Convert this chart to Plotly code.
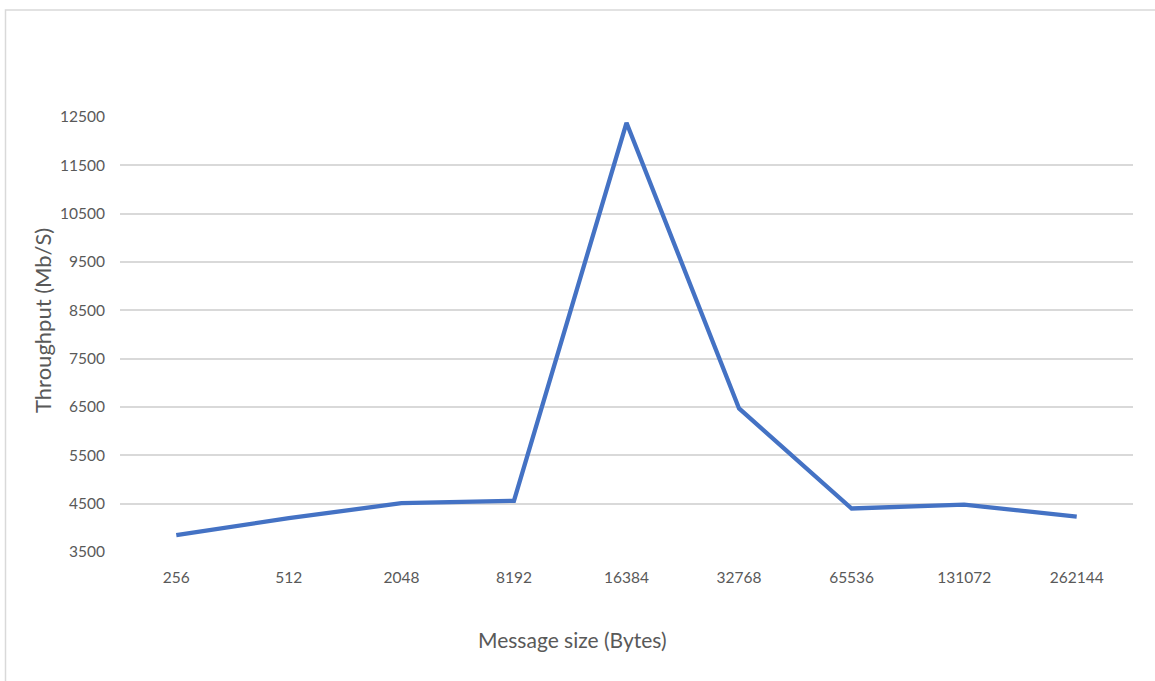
import plotly.graph_objects as go

# Message sizes tested (bytes) and measured throughput (Mb/S)
message_sizes = ["256", "512", "2048", "8192", "16384", "32768", "65536", "131072", "262144"]
throughput = [3850, 4200, 4510, 4560, 12380, 6470, 4400, 4480, 4230]

y_ticks = [3500, 4500, 5500, 6500, 7500, 8500, 9500, 10500, 11500, 12500]

FONT = "Lato"
TEXT_GRAY = "#595959"
GRID_GRAY = "#d9d9d9"

fig = go.Figure()
fig.add_trace(go.Scatter(
    x=message_sizes,
    y=throughput,
    mode="lines",
    line=dict(color="#4472c4", width=4.3, shape="linear"),
    hoverinfo="x+y",
    showlegend=False,
))

W, H = 1155, 681
L, R, T, B = 120, 22, 117, 129

fig.update_layout(
    width=W, height=H,
    margin=dict(l=L, r=R, t=T, b=B),
    paper_bgcolor="white",
    plot_bgcolor="white",
    font=dict(family=FONT, color=TEXT_GRAY),
    xaxis=dict(
        type="category",
        range=[-0.5, 8.5],
        showgrid=False,
        showline=False,
        zeroline=False,
        ticks="",
        ticklabelstandoff=14,
        tickfont=dict(size=15.5, color=TEXT_GRAY, family=FONT),
    ),
    yaxis=dict(
        range=[3500, 12500],
        tickvals=y_ticks,
        ticktext=[str(v) for v in y_ticks],
        showgrid=True,
        gridcolor=GRID_GRAY,
        gridwidth=1.5,
        zeroline=False,
        showline=False,
        ticks="",
        ticklabelstandoff=14,
        tickfont=dict(size=15.5, color=TEXT_GRAY, family=FONT),
    ),
)

pw = W - L - R
ph = H - T - B

def px_x(px):
    return (px - L) / pw

def px_y(py):
    return (H - B - py) / ph

# Axis titles
fig.add_annotation(
    text="Message size (Bytes)", xref="paper", yref="paper",
    x=px_x(572), y=px_y(639), showarrow=False,
    xanchor="center", yanchor="middle",
    font=dict(size=21, color=TEXT_GRAY, family=FONT),
)
fig.add_annotation(
    text="Throughput (Mb/S)", xref="paper", yref="paper",
    x=px_x(42), y=px_y(321), showarrow=False, textangle=-90,
    xanchor="center", yanchor="middle",
    font=dict(size=22, color=TEXT_GRAY, family=FONT),
)

# Chart frame
fig.add_shape(
    type="rect", xref="paper", yref="paper",
    x0=px_x(5.5), x1=px_x(1165), y0=px_y(700), y1=px_y(10),
    line=dict(color=GRID_GRAY, width=1.5), fillcolor="rgba(0,0,0,0)",
    layer="below",
)

fig.write_html("out.html")
